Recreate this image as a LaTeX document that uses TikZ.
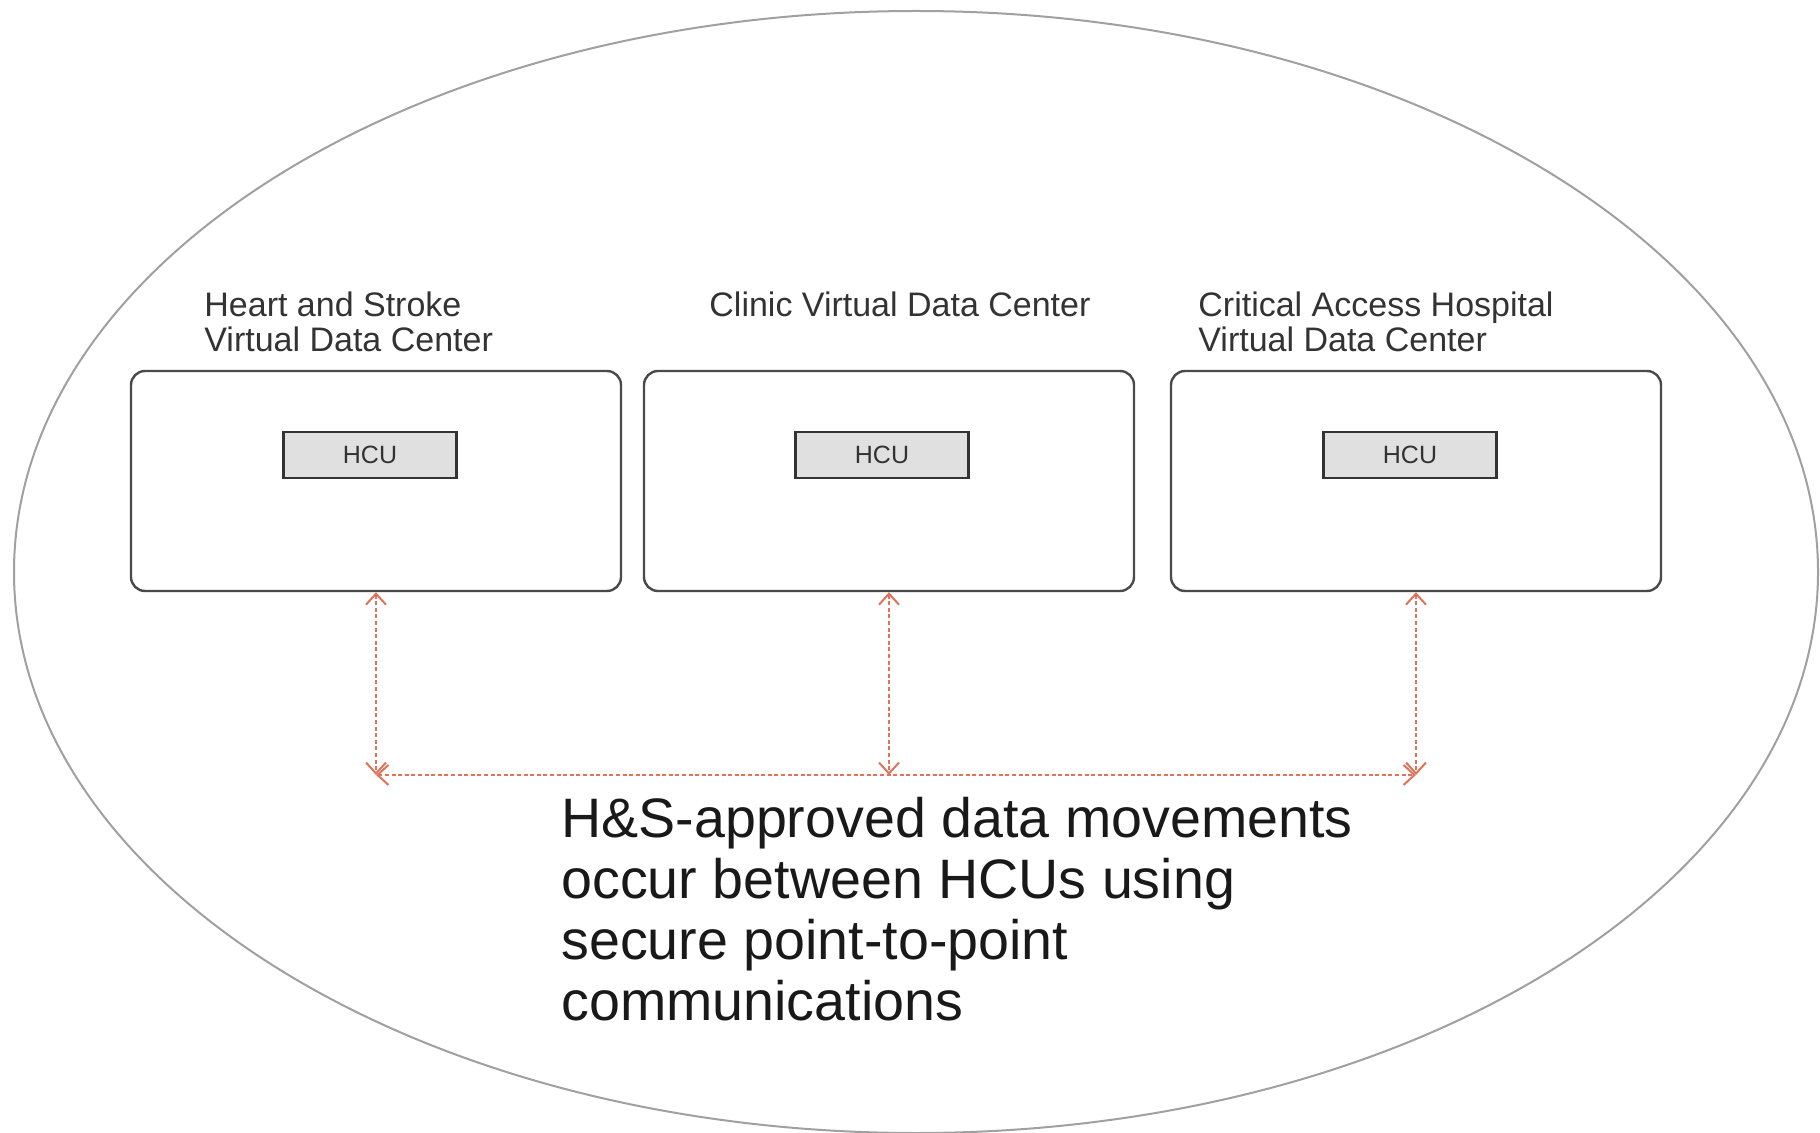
\documentclass[tikz,border=0pt]{standalone}
\usepackage{fontspec}
\setmainfont{Liberation Sans}
\usetikzlibrary{arrows.meta}
\definecolor{ellgray}{HTML}{A0A0A0}
\definecolor{boxgray}{HTML}{4A4A4A}
\definecolor{hcufill}{HTML}{E0E0E0}
\definecolor{hculine}{HTML}{333333}
\definecolor{labeltext}{HTML}{333333}
\definecolor{arrowred}{HTML}{E0735A}
\tikzset{
  vdcbox/.style={draw=boxgray, line width=1.2pt, rounded corners=7pt, minimum width=245pt, minimum height=110pt, inner sep=0pt},
  hcubox/.style={draw=hculine, fill=hcufill, line width=1.3pt, minimum width=86.5pt, minimum height=23pt, inner sep=0pt, font=\fontsize{12.5}{14}\selectfont, text=labeltext},
  vdclabel/.style={anchor=north west, inner sep=0pt, align=left, text=labeltext, font=\fontsize{17}{17.5}\selectfont},
  flow/.style={draw=arrowred, line width=1pt, dash pattern=on 2pt off 1.3pt, {Straight Barb[length=5.5pt,width=10pt]}-{Straight Barb[length=5.5pt,width=10pt]}}
}
\begin{document}
\begin{tikzpicture}[x=0.5pt,y=-0.5pt]
\useasboundingbox (0,0) rectangle (1820,1133);
\draw[ellgray, line width=1pt] (916,572) ellipse [x radius=451pt, y radius=280.5pt];

\node[vdcbox] (box1) at (376,481) {};
\node[vdcbox] (box2) at (889,481) {};
\node[vdcbox] (box3) at (1416,481) {};

\node[hcubox] (hcu1) at (370,455) {HCU};
\node[hcubox] (hcu2) at (882,455) {HCU};
\node[hcubox] (hcu3) at (1410,455) {HCU};

\node[vdclabel] (lab1) at (204,291) {Heart and Stroke\\Virtual Data Center};
\node[vdclabel] (lab2) at (709,291) {Clinic Virtual Data Center};
\node[vdclabel] (lab3) at (1198,291) {Critical Access Hospital\\Virtual Data Center};

\coordinate (j1) at (376,775);
\coordinate (j2) at (889,775);
\coordinate (j3) at (1416,775);

\draw[flow] (box1.south) -- (j1);
\draw[flow] (box2.south) -- (j2);
\draw[flow] (box3.south) -- (j3);
\draw[flow] (j1) -- (j3);

\node[anchor=north west, inner sep=0pt, align=left, text=black!90, font=\fontsize{27.8}{30.5}\selectfont] (note) at (561,797) {H\&S-approved data movements\\occur between HCUs using\\secure point-to-point\\communications};
\end{tikzpicture}
\end{document}
